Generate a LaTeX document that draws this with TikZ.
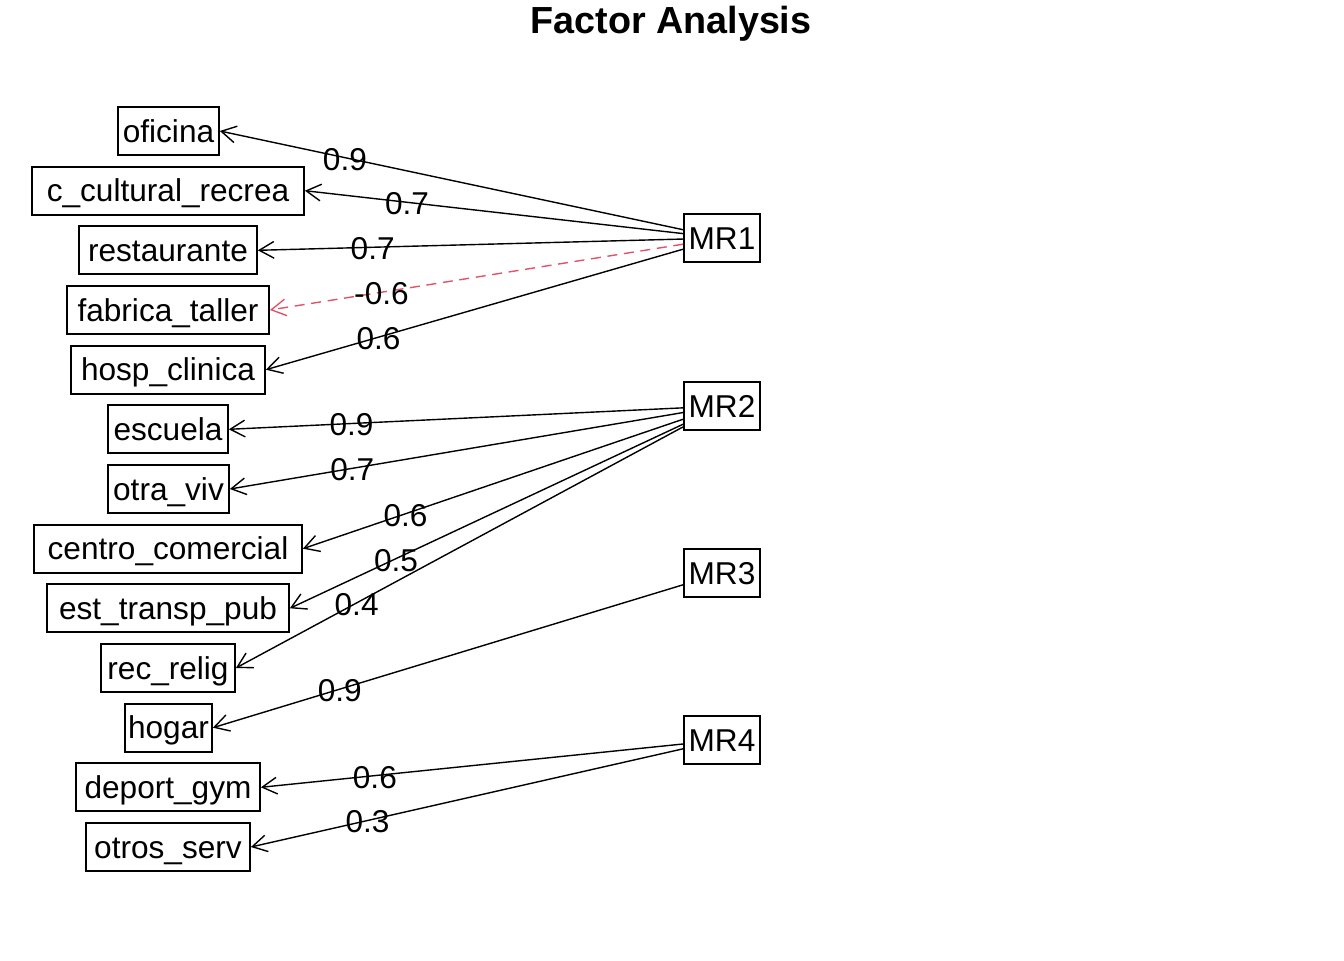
\documentclass[tikz,border=0pt]{standalone}
\usepackage{fontspec}
\setmainfont{Liberation Sans}
\usetikzlibrary{arrows.meta}
\definecolor{negred}{HTML}{DF536B}
\tikzset{
  box/.style={draw, line width=1.3pt, minimum height=48*0.75pt, inner sep=0pt,
    text height=18.5pt, text depth=2pt,
    font=\fontsize{23.7pt}{28pt}\selectfont},
  load/.style={line width=1.05pt, -{Straight Barb[length=11pt,width=12.5pt,line width=1.05pt]}},
  neg/.style={load, negred, dash pattern=on 7.5pt off 5pt},
  lbl/.style={pos=0.73, inner sep=0pt, yshift=-1.2pt, font=\fontsize{23.7pt}{28pt}\selectfont}
}
\begin{document}
\begin{tikzpicture}[x=0.75pt,y=-0.75pt]
\useasboundingbox (0,0) rectangle (1344,960);
\node[anchor=base, inner sep=0pt, font=\bfseries\fontsize{28.3pt}{34pt}\selectfont] (title) at (671,33) {Factor Analysis};
% items
\node[box, minimum width=101*0.75pt] (oficina) at (168.5,131) {oficina};
\node[box, minimum width=272*0.75pt] (ccult) at (168,190.7) {c\_cultural\_recrea};
\node[box, minimum width=178*0.75pt] (rest) at (168,250.3) {restaurante};
\node[box, minimum width=202*0.75pt] (fab) at (168,310) {fabrica\_taller};
\node[box, minimum width=194*0.75pt] (hosp) at (168,369.7) {hosp\_clinica};
\node[box, minimum width=120*0.75pt] (esc) at (168,429.3) {escuela};
\node[box, minimum width=121*0.75pt] (otra) at (168.5,489) {otra\_viv};
\node[box, minimum width=268*0.75pt] (centro) at (168,548.7) {centro\_comercial};
\node[box, minimum width=242*0.75pt] (est) at (168,608.3) {est\_transp\_pub};
\node[box, minimum width=134*0.75pt] (rec) at (168,668) {rec\_relig};
\node[box, minimum width=87*0.75pt] (hogar) at (168.5,727.7) {hogar};
\node[box, minimum width=184*0.75pt] (dep) at (168,787.3) {deport\_gym};
\node[box, minimum width=164*0.75pt] (otros) at (168,847) {otros\_serv};
% factors
\node[box, minimum width=76*0.75pt] (mr1) at (722,238) {MR1};
\node[box, minimum width=76*0.75pt] (mr2) at (722,406) {MR2};
\node[box, minimum width=76*0.75pt] (mr3) at (722,573) {MR3};
\node[box, minimum width=76*0.75pt] (mr4) at (722,740) {MR4};
% loadings
\draw[load] (mr1) -- node[lbl] {0.9} (oficina.east);
\draw[load] (mr1) -- node[lbl] {0.7} (ccult.east);
\draw[load] (mr1) -- node[lbl] {0.7} (rest.east);
\draw[neg] (mr1) -- node[lbl, text=black] {-0.6} (fab.east);
\draw[load] (mr1) -- node[lbl] {0.6} (hosp.east);
\draw[load] (mr2) -- node[lbl] {0.9} (esc.east);
\draw[load] (mr2) -- node[lbl] {0.7} (otra.east);
\draw[load] (mr2) -- node[lbl] {0.6} (centro.east);
\draw[load] (mr2) -- node[lbl] {0.5} (est.east);
\draw[load] (mr2) -- node[lbl] {0.4} (rec.east);
\draw[load] (mr3) -- node[lbl] {0.9} (hogar.east);
\draw[load] (mr4) -- node[lbl] {0.6} (dep.east);
\draw[load] (mr4) -- node[lbl] {0.3} (otros.east);
\end{tikzpicture}
\end{document}
